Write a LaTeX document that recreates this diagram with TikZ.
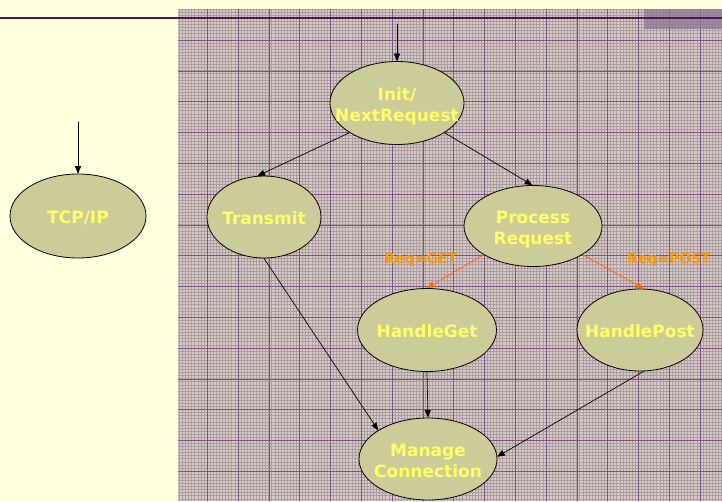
\documentclass[tikz,border=0pt]{standalone}
\usepackage{fontspec}
\setmainfont{DejaVu Sans}
\usetikzlibrary{arrows,shapes.geometric}

\definecolor{paper}{HTML}{FFFFE0}
\definecolor{gridbase}{HTML}{D6CBC8}
\definecolor{gridfine}{HTML}{AC9C9E}
\definecolor{gridmajor}{HTML}{7A557E}
\definecolor{barline}{HTML}{4A1A4A}
\definecolor{corner}{HTML}{8B7896}
\definecolor{statefill}{HTML}{CCCC99}
\definecolor{statetext}{HTML}{FFFF66}
\definecolor{reqarrow}{HTML}{FF6600}
\definecolor{reqtext}{HTML}{FF9900}

% text of a state, kept from widening its ellipse
\newcommand{\statelabel}[1]{\makebox[0pt]{\raisebox{-8pt}[0pt][0pt]{\begin{tabular}{@{}c@{}}#1\end{tabular}}}}

\begin{document}
\begin{tikzpicture}[line cap=round,line join=round,>=triangle 45,x=1pt,y=-1pt,
    state/.style={ellipse,draw=black,line width=0.8pt,fill=statefill,text=statetext,
      font=\bfseries\fontsize{17}{21}\selectfont,inner sep=0pt},
    flow/.style={->,line width=0.7pt},
    reqflow/.style={->,line width=0.7pt,draw=reqarrow,fill=reqarrow},
    reqlabel/.style={text=reqtext,font=\bfseries\fontsize{14}{16}\selectfont}]
        \useasboundingbox (0,0) rectangle (722,501);
        \fill [paper] (0,0) rectangle (722,501);

        % graph paper
        \fill [gridbase] (178,9) rectangle (722,501);
        \begin{scope}
        \clip (178,9) rectangle (722,501);
        \foreach \i [evaluate=\i as \gx using 176.4+3.08*\i] in {1,...,177}
            \draw [gridfine, line width=0.8pt] (\gx,9) -- (\gx,501);
        \foreach \i [evaluate=\i as \gy using 9.2+3.08*\i] in {0,...,160}
            \draw [gridfine, line width=0.8pt] (178,\gy) -- (722,\gy);
        \foreach \i [evaluate=\i as \gx using 176.4+30.8*\i] in {1,...,18}
            \draw [gridmajor, line width=0.5pt] (\gx,9) -- (\gx,501);
        \foreach \i [evaluate=\i as \gy using 9.2+30.8*\i] in {1,...,16}
            \draw [gridmajor, line width=0.5pt] (178,\gy) -- (722,\gy);
        \end{scope}
        \fill [corner, opacity=0.75] (644,9) rectangle (722,29);
        \draw [barline, line width=2pt, line cap=butt] (0,17.5) -- (722,17.5);

        % states
        \node [state, minimum width=136, minimum height=84] (tcp) at (78,216) {\statelabel{TCP/IP}};
        \node [state, minimum width=134, minimum height=83] (init) at (397,103) {\statelabel{Init/\\NextRequest}};
        \node [state, minimum width=114, minimum height=82] (trans) at (264,217) {\statelabel{Transmit}};
        \node [state, minimum width=138, minimum height=81] (proc) at (533,226) {\statelabel{Process\\Request}};
        \node [state, minimum width=139, minimum height=83] (hget) at (427,330) {\statelabel{HandleGet}};
        \node [state, minimum width=126, minimum height=82] (hpost) at (640,330) {\statelabel{HandlePost}};
        \node [state, minimum width=138, minimum height=82] (manage) at (428,459) {\statelabel{Manage\\Connection}};

        \coordinate (initin) at (397,24);
        \coordinate (tcpin) at (78,122);

        % transitions
        \draw [flow] (initin) -- (init.north);
        \draw [flow] (tcpin) -- (tcp.north);
        \draw [flow] (init.212) -- (trans.99);
        \draw [flow] (init.328) -- (proc.91);
        \draw [flow] (trans.270) -- (manage.150);
        \draw [reqflow] (proc.210) -- (hget.90);
        \draw [reqflow] (proc.330) -- (hpost.85);
        \draw [flow] (hget.270) -- (manage.90);
        \draw [flow] (hpost.275) -- (manage.2);

        \node [reqlabel] (getlabel) at (421,260) {Req=GET};
        \node [reqlabel] (postlabel) at (669,260) {Req=POST};
\end{tikzpicture}
\end{document}
